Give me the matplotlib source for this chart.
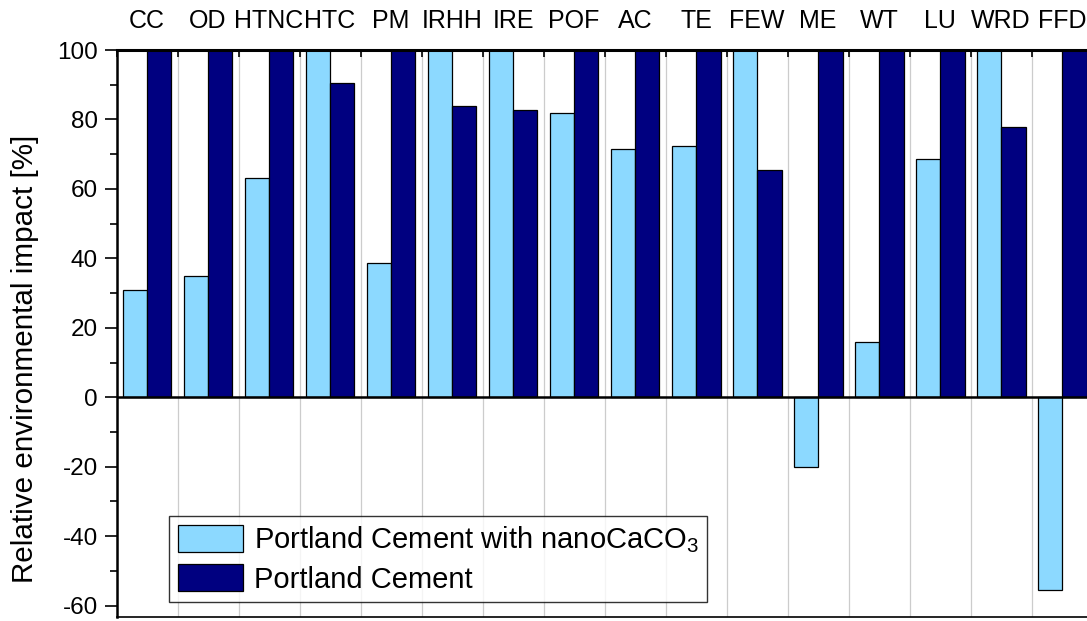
import matplotlib
matplotlib.use("Agg")
import matplotlib.pyplot as plt
import numpy as np

plt.rcParams['font.family'] = ['Liberation Sans', 'DejaVu Sans']
plt.rcParams['mathtext.default'] = 'regular'
plt.rcParams['axes.unicode_minus'] = False

categories = ['CC', 'OD', 'HTNC', 'HTC', 'PM', 'IRHH', 'IRE', 'POF',
              'AC', 'TE', 'FEW', 'ME', 'WT', 'LU', 'WRD', 'FFD']
nano_vals = [30.9, 35.0, 63.1, 100, 38.6, 100, 100, 82.0,
             71.5, 72.4, 100, -20.2, 16.0, 68.7, 100, -55.6]
pc_vals = [100, 100, 100, 90.5, 100, 84.0, 82.7, 100,
           100, 100, 65.4, 100, 100, 100, 77.8, 100]
labels = ['Portland Cement with nanoCaCO$_3$', 'Portland Cement']

light = '#8CD9FF'
dark = '#000080'

fig = plt.figure(figsize=(10.87, 6.21), dpi=100)
ax = fig.add_axes([0.1072, 0.0064, 0.898, 0.913])

n = len(categories)
x = np.arange(n)
w = 0.4
ax.bar(x + 0.3, nano_vals, w, color=light, edgecolor='black', linewidth=0.9,
       label=labels[0], zorder=3)
ax.bar(x + 0.7, pc_vals, w, color=dark, edgecolor='black', linewidth=0.9,
       label=labels[1], zorder=3)

ax.set_xlim(0, n)
ax.set_ylim(-63.3, 100)

# group borders: grid + ticks on the top
ax.set_xticks(np.arange(n + 1))
ax.set_xticks(x + 0.5, minor=True)
ax.set_xticklabels(categories, minor=True, fontsize=18)
ax.tick_params(axis='x', which='major', top=True, bottom=False, direction='in',
               length=5, width=1.2, labelbottom=False, labeltop=False)
ax.tick_params(axis='x', which='minor', top=True, bottom=False, length=0,
               labeltop=True, labelbottom=False, pad=12)
ax.grid(axis='x', which='major', color='#cccccc', linewidth=0.9, zorder=0)

ax.set_yticks(np.arange(-60, 101, 20))
ax.set_yticks(np.arange(-60, 101, 10), minor=True)
ax.tick_params(axis='y', which='major', direction='out', length=8.5, width=1.2,
               labelsize=17.5, pad=5)
ax.tick_params(axis='y', which='minor', direction='out', length=5, width=1.2)

ax.axhline(0, color='black', linewidth=1.8, zorder=4)
ax.spines['left'].set_linewidth(1.8)
ax.spines['top'].set_linewidth(2.2)
ax.spines['top'].set_zorder(5)
ax.spines['bottom'].set_linewidth(1.2)
ax.spines['right'].set_visible(False)

ax.set_ylabel('Relative environmental impact [%]', fontsize=21.3, labelpad=12)
ax.yaxis.set_label_coords(-0.079, 0.455)

leg = ax.legend(loc='lower left', bbox_to_anchor=(0.0538, 0.026), fontsize=21,
                frameon=True, fancybox=False, edgecolor='black',
                handlelength=2.25, handleheight=1.05, handletextpad=0.35,
                borderpad=0.3, labelspacing=0.3, borderaxespad=0)
leg.get_frame().set_linewidth(1.0)
leg.set_zorder(6)

fig.savefig('out.png', dpi=100)
